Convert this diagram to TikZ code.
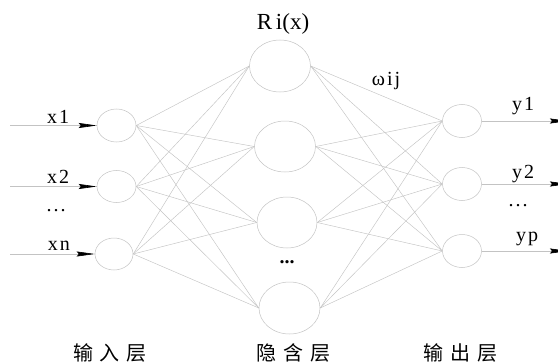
\documentclass[tikz,border=0pt]{standalone}
\usepackage{fontspec}
\setmainfont{Liberation Serif}
\newfontfamily\lsp[LetterSpace=10]{Liberation Serif}
\newfontfamily\cjk[LetterSpace=35]{Noto Sans CJK SC}
\usetikzlibrary{arrows.meta,shapes.geometric}
\definecolor{linegray}{RGB}{195,195,195}
\begin{document}
\begin{tikzpicture}[x=1pt,y=-1pt,
  neuron/.style={draw=linegray, line width=0.5pt, ellipse, inner sep=0pt},
  conn/.style={draw=linegray, line width=0.45pt},
  inarrow/.style={draw=linegray, line width=0.6pt, -{Stealth[length=18pt,width=5pt,inset=2pt,black]}},
  lab/.style={font=\lsp\fontsize{20}{20}\selectfont, inner sep=0pt},
  layerlab/.style={font=\cjk\fontsize{20}{20}\selectfont, inner sep=0pt}]
\useasboundingbox (0,0) rectangle (558,364);
% input layer
\node[neuron, minimum width=39pt, minimum height=33pt] (i1) at (116.5,125.5) {};
\node[neuron, minimum width=39pt, minimum height=32pt] (i2) at (116.5,186.5) {};
\node[neuron, minimum width=38pt, minimum height=32pt] (i3) at (114,254) {};
% hidden layer
\node[neuron, minimum width=61pt, minimum height=52pt] (h1) at (280,66) {};
\node[neuron, minimum width=61pt, minimum height=51pt] (h2) at (285,146.5) {};
\node[neuron, minimum width=60pt, minimum height=51pt] (h3) at (287,222.5) {};
\node[neuron, minimum width=61pt, minimum height=52pt] (h4) at (289.5,308) {};
% output layer
\node[neuron, minimum width=39pt, minimum height=33pt] (o1) at (462,121) {};
\node[neuron, minimum width=39pt, minimum height=33pt] (o2) at (462,184) {};
\node[neuron, minimum width=39pt, minimum height=33pt] (o3) at (462,251) {};
% connections
\foreach \i in {i1,i2,i3}{
  \foreach \h in {h1,h2,h3,h4}{
    \draw[conn] (\i.east) -- (\h.west);
  }
}
\foreach \h in {h1,h2,h3,h4}{
  \foreach \o in {o1,o2,o3}{
    \draw[conn] (\h.east) -- (\o.west);
  }
}
% input arrows
\coordinate (s1) at (10,125.5);
\coordinate (s2) at (10,186.5);
\coordinate (s3) at (10,254);
\draw[inarrow] (s1) -- (i1);
\draw[inarrow] (s2) -- (i2);
\draw[inarrow] (s3) -- (i3);
% output arrows
\coordinate (e1) at (568,121);
\coordinate (e2) at (568,184);
\coordinate (e3) at (568,251);
\draw[inarrow] (o1) -- (e1);
\draw[inarrow] (o2) -- (e2);
\draw[inarrow] (o3) -- (e3);
% labels
\node[lab] (lx1) at (58,117) {x1};
\node[lab] (lx2) at (58,177) {x2};
\node[lab] (lxd) at (56,211) {...};
\node[lab] (lxn) at (59,246) {xn};
\node[lab, font=\fontsize{23}{23}\selectfont] (lr) at (283,24) {R\,i(x)};
\node[lab] (lw) at (386,81) {ωij};
\node[lab] (ly1) at (523,106) {y1};
\node[lab] (ly2) at (523,174) {y2};
\node[lab] (lyd) at (518,206) {...};
\node[lab] (lyp) at (527,239) {yp};
\node[lab, font=\bfseries\fontsize{20}{20}\selectfont] (lhd) at (287,262) {...};
\node[layerlab] (l1) at (110,353) {输入层};
\node[layerlab] (l2) at (293,353) {隐含层};
\node[layerlab] (l3) at (460,353) {输出层};
\end{tikzpicture}
\end{document}
